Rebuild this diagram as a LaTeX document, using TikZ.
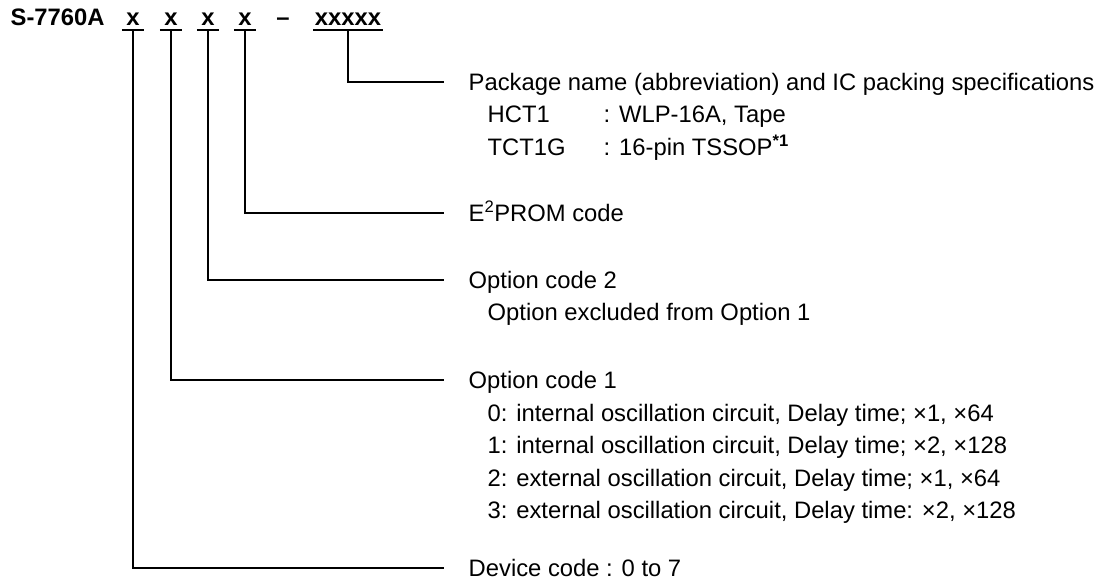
\documentclass[tikz,border=0pt]{standalone}
\usepackage{fontspec}
\setmainfont{Liberation Sans}
\begin{document}
\begin{tikzpicture}[x=1pt,y=-1pt,line width=1.4pt,
  lbl/.style={anchor=west,inner sep=0pt,text height=17pt,text depth=0pt,font=\fontsize{23.8}{28}\selectfont},
  code/.style={anchor=base,inner sep=0pt,minimum width=21pt,text height=17pt,text depth=3.5pt,font=\fontsize{23.8}{28}\selectfont\bfseries},
  conn/.style={line width=1.4pt}]
\useasboundingbox (0,0) rectangle (1101,585);
% title
\node[anchor=base west,inner sep=0pt,font=\fontsize{23.8}{28}\selectfont\bfseries] (title) at (10,26) {S-7760A};
\node[code] (c1) at (133,26) {x};
\node[code] (c2) at (171,26) {x};
\node[code] (c3) at (208,26) {x};
\node[code] (c4) at (245,26) {x};
\node[code,minimum width=0pt] (dash) at (283,26) {–};
\node[code,minimum width=68pt] (c5) at (348,26) {xxxxx};
\foreach \c in {c1,c2,c3,c4,c5}{\draw[conn] (\c.south west) -- (\c.south east);}
% labels
\node[lbl] (pkg) at (468,82) {Package name (abbreviation) and IC packing specifications};
\node[lbl] (pkga) at (487,114.5) {HCT1};
\node[lbl] (pkgav) at (603,114.5) {: WLP-16A, Tape};
\node[lbl] (pkgb) at (487,147) {TCT1G};
\node[lbl] (pkgbv) at (603,147) {: 16-pin TSSOP\textsuperscript{\bfseries *1}};
\node[lbl] (e2) at (468,213) {E\textsuperscript{2}PROM code};
\node[lbl] (oc2) at (468,280) {Option code 2};
\node[lbl] (oc2a) at (487,312.5) {Option excluded from Option 1};
\node[lbl] (oc1) at (468,380) {Option code 1};
\node[lbl] (o0) at (487,412.5) {0: internal oscillation circuit, Delay time; ×1, ×64};
\node[lbl] (o1) at (487,445) {1: internal oscillation circuit, Delay time; ×2, ×128};
\node[lbl] (o2) at (487,477.5) {2: external oscillation circuit, Delay time; ×1, ×64};
\node[lbl] (o3) at (487,510) {3: external oscillation circuit, Delay time: ×2, ×128};
\node[lbl] (dev) at (468,568) {Device code : 0 to 7};
% connectors
\draw[conn] (c5.south) |- ([xshift=-24pt]pkg.west);
\draw[conn] (c4.south) |- ([xshift=-24pt]e2.west);
\draw[conn] (c3.south) |- ([xshift=-24pt]oc2.west);
\draw[conn] (c2.south) |- ([xshift=-24pt]oc1.west);
\draw[conn] (c1.south) |- ([xshift=-24pt]dev.west);
\end{tikzpicture}
\end{document}
